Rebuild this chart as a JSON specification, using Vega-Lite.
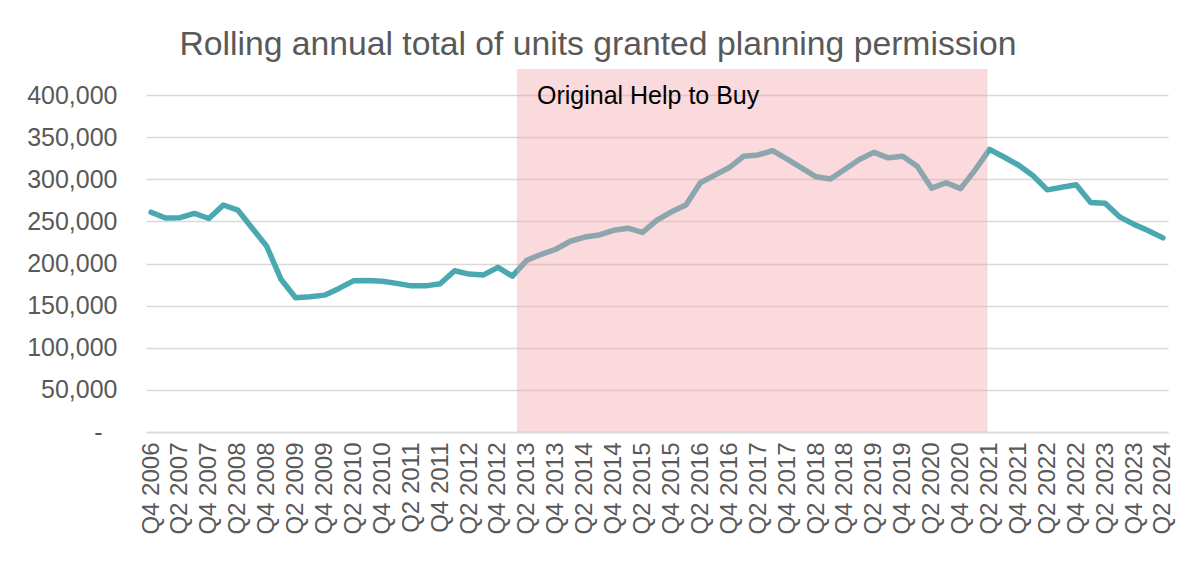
{
  "$schema": "https://vega.github.io/schema/vega-lite/v6.json",
  "width": 1022,
  "height": 363,
  "autosize": {"type": "none"},
  "padding": {"left": 146, "top": 69, "right": 32, "bottom": 131},
  "background": "white",
  "config": {
    "view": {"stroke": null},
    "font": "Liberation Sans",
    "axisX": {
      "title": null,
      "labelAngle": 270,
      "labelFont": "Liberation Sans",
      "labelFontSize": 24,
      "labelColor": "#595959",
      "labelPadding": 10,
      "labelOverlap": false,
      "labelFlush": false,
      "labelBound": false,
      "ticks": false,
      "tickSize": 0,
      "grid": false,
      "domain": true,
      "domainColor": "#d9d9d9",
      "domainWidth": 1.3
    },
    "axisY": {
      "title": null,
      "labelFont": "Liberation Sans",
      "labelFontSize": 25,
      "labelColor": "#595959",
      "labelOverlap": false,
      "ticks": false,
      "tickSize": 0,
      "domain": false,
      "grid": true,
      "gridColor": "#d9d9d9",
      "gridWidth": 1.3
    }
  },
  "title": {
    "text": "Rolling annual total of units granted planning permission",
    "font": "Liberation Sans",
    "fontSize": 33.7,
    "fontWeight": "normal",
    "color": "#595959",
    "anchor": "middle",
    "dx": -59,
    "offset": 7
  },
  "datasets": {
    "series": [
      {"quarter": "Q4 2006", "units": 261000},
      {"quarter": "Q1 2007", "units": 254000},
      {"quarter": "Q2 2007", "units": 254500},
      {"quarter": "Q3 2007", "units": 259500},
      {"quarter": "Q4 2007", "units": 253500},
      {"quarter": "Q1 2008", "units": 269500},
      {"quarter": "Q2 2008", "units": 263500},
      {"quarter": "Q3 2008", "units": 242000},
      {"quarter": "Q4 2008", "units": 220500},
      {"quarter": "Q1 2009", "units": 181000},
      {"quarter": "Q2 2009", "units": 159500},
      {"quarter": "Q3 2009", "units": 160500},
      {"quarter": "Q4 2009", "units": 162500},
      {"quarter": "Q1 2010", "units": 170500},
      {"quarter": "Q2 2010", "units": 179500},
      {"quarter": "Q3 2010", "units": 180000},
      {"quarter": "Q4 2010", "units": 179000},
      {"quarter": "Q1 2011", "units": 176500},
      {"quarter": "Q2 2011", "units": 173500},
      {"quarter": "Q3 2011", "units": 173500},
      {"quarter": "Q4 2011", "units": 176000},
      {"quarter": "Q1 2012", "units": 191500},
      {"quarter": "Q2 2012", "units": 187500},
      {"quarter": "Q3 2012", "units": 186500},
      {"quarter": "Q4 2012", "units": 195500},
      {"quarter": "Q1 2013", "units": 185000},
      {"quarter": "Q2 2013", "units": 204000},
      {"quarter": "Q3 2013", "units": 211000},
      {"quarter": "Q4 2013", "units": 217000},
      {"quarter": "Q1 2014", "units": 226500},
      {"quarter": "Q2 2014", "units": 231500},
      {"quarter": "Q3 2014", "units": 234000},
      {"quarter": "Q4 2014", "units": 239500},
      {"quarter": "Q1 2015", "units": 242000},
      {"quarter": "Q2 2015", "units": 237000},
      {"quarter": "Q3 2015", "units": 251500},
      {"quarter": "Q4 2015", "units": 261500},
      {"quarter": "Q1 2016", "units": 269500},
      {"quarter": "Q2 2016", "units": 296000},
      {"quarter": "Q3 2016", "units": 305000},
      {"quarter": "Q4 2016", "units": 314000},
      {"quarter": "Q1 2017", "units": 327500},
      {"quarter": "Q2 2017", "units": 329000},
      {"quarter": "Q3 2017", "units": 334000},
      {"quarter": "Q4 2017", "units": 324000},
      {"quarter": "Q1 2018", "units": 313500},
      {"quarter": "Q2 2018", "units": 303000},
      {"quarter": "Q3 2018", "units": 300500},
      {"quarter": "Q4 2018", "units": 312000},
      {"quarter": "Q1 2019", "units": 323500},
      {"quarter": "Q2 2019", "units": 332000},
      {"quarter": "Q3 2019", "units": 325500},
      {"quarter": "Q4 2019", "units": 327500},
      {"quarter": "Q1 2020", "units": 315500},
      {"quarter": "Q2 2020", "units": 289500},
      {"quarter": "Q3 2020", "units": 296000},
      {"quarter": "Q4 2020", "units": 289000},
      {"quarter": "Q1 2021", "units": 311000},
      {"quarter": "Q2 2021", "units": 335500},
      {"quarter": "Q3 2021", "units": 326500},
      {"quarter": "Q4 2021", "units": 317000},
      {"quarter": "Q1 2022", "units": 304500},
      {"quarter": "Q2 2022", "units": 287500},
      {"quarter": "Q3 2022", "units": 290500},
      {"quarter": "Q4 2022", "units": 293500},
      {"quarter": "Q1 2023", "units": 272500},
      {"quarter": "Q2 2023", "units": 271500},
      {"quarter": "Q3 2023", "units": 255500},
      {"quarter": "Q4 2023", "units": 246500},
      {"quarter": "Q1 2024", "units": 239000},
      {"quarter": "Q2 2024", "units": 230500}
    ],
    "period": [
      {"period": "Original Help to Buy", "start": "Q1 2013", "end": "Q2 2021"}
    ]
  },
  "layer": [
    {
      "data": {"name": "series"},
      "mark": {"type": "line", "color": "#4AA9B0", "strokeWidth": 5.5, "strokeJoin": "round", "strokeCap": "round"},
      "encoding": {
        "x": {
          "field": "quarter",
          "type": "ordinal",
          "sort": null,
          "title": null,
          "scale": {"type": "point", "padding": 0.35},
          "axis": {
            "labelOverlap": false,
            "values": ["Q4 2006", "Q2 2007", "Q4 2007", "Q2 2008", "Q4 2008", "Q2 2009", "Q4 2009", "Q2 2010", "Q4 2010", "Q2 2011", "Q4 2011", "Q2 2012", "Q4 2012", "Q2 2013", "Q4 2013", "Q2 2014", "Q4 2014", "Q2 2015", "Q4 2015", "Q2 2016", "Q4 2016", "Q2 2017", "Q4 2017", "Q2 2018", "Q4 2018", "Q2 2019", "Q4 2019", "Q2 2020", "Q4 2020", "Q2 2021", "Q4 2021", "Q2 2022", "Q4 2022", "Q2 2023", "Q4 2023", "Q2 2024"]
          }
        },
        "y": {
          "field": "units",
          "type": "quantitative",
          "title": null,
          "scale": {"domain": [0, 431000], "nice": false, "zero": true},
          "axis": {
            "values": [0, 50000, 100000, 150000, 200000, 250000, 300000, 350000, 400000],
            "labelExpr": "datum.value === 0 ? '-' : format(datum.value, ',')",
            "labelPadding": {"condition": {"test": "datum.value === 0", "value": 44}, "value": 29}
          }
        }
      }
    },
    {
      "data": {"name": "period"},
      "mark": {"type": "rect", "color": "#F2A2AA", "opacity": 0.4, "xOffset": 4.5, "x2Offset": -2},
      "encoding": {
        "x": {"field": "start", "type": "ordinal", "sort": null, "title": null},
        "x2": {"field": "end"},
        "y": {"datum": 431000, "type": "quantitative", "title": null},
        "y2": {"datum": 0}
      }
    },
    {
      "data": {"name": "period"},
      "mark": {"type": "text", "align": "left", "baseline": "middle", "dx": 24.5, "font": "Liberation Sans", "fontSize": 25, "color": "#000000"},
      "encoding": {
        "x": {"field": "start", "type": "ordinal", "sort": null, "title": null},
        "y": {"datum": 399000, "type": "quantitative", "title": null},
        "text": {"field": "period"}
      }
    }
  ]
}
